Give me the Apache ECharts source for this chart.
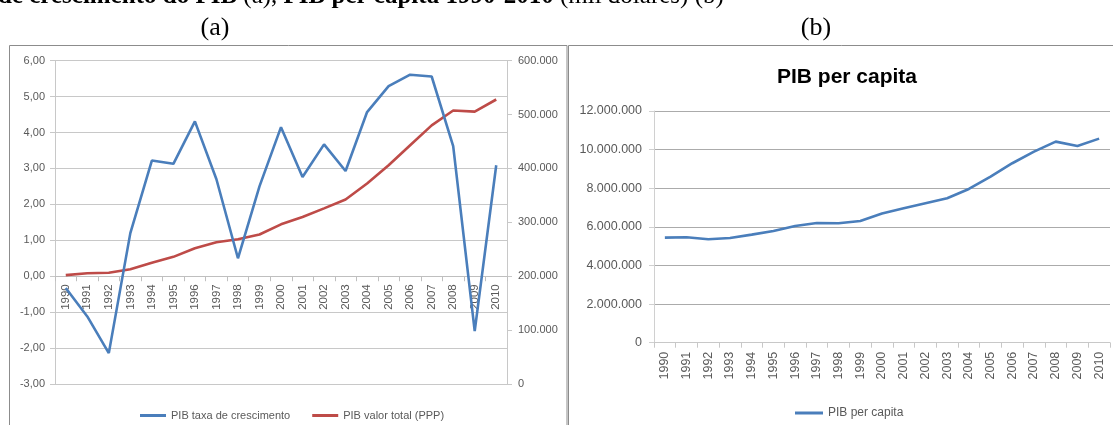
<!DOCTYPE html>
<html><head><meta charset="utf-8">
<script src="https://cdn.jsdelivr.net/npm/echarts@6/dist/echarts.min.js"></script>
<style>html,body{margin:0;padding:0;background:#fff}#c{width:1113px;height:425px}</style>
</head><body><div id="c"></div>
<script>
const years = ['1990','1991','1992','1993','1994','1995','1996','1997','1998','1999','2000','2001','2002','2003','2004','2005','2006','2007','2008','2009','2010'];
const growthRate = [-0.33, -1.12, -2.14, 1.2, 3.22, 3.13, 4.31, 2.7, 0.5, 2.5, 4.15, 2.76, 3.67, 2.93, 4.57, 5.29, 5.61, 5.56, 3.62, -1.53, 3.09];
const totalPPP = [202000, 205500, 206500, 213000, 225000, 236000, 252000, 263000, 268500, 277500, 296300, 310000, 326000, 342500, 372000, 406000, 443000, 480000, 507500, 505500, 528000];
const perCapita = [5440000, 5461000, 5357000, 5425000, 5596000, 5787000, 6046000, 6202000, 6185000, 6305000, 6690000, 6960000, 7222000, 7481000, 7963000, 8601000, 9295000, 9896000, 10414000, 10191000, 10570000];
const seriesNames = ['PIB taxa de crescimento', 'PIB valor total (PPP)', 'PIB per capita'];
const leftTicks = {min: -3, max: 6, interval: 1};
const rightTicks = {min: 0, max: 600000, interval: 100000};
const capitaTicks = {min: 0, max: 12000000, interval: 2000000};

function dots(v){ return String(Math.round(v)).replace(/\B(?=(\d{3})+(?!\d))/g,'.'); }
function comma2(v){ return v.toFixed(2).replace('.', ','); }

const F = 'Liberation Sans';
const lab = '#595959';
const BLUE = '#4a7ebb', RED = '#be4b48';

const gridA = {left:55, right:606, top:60.7, bottom:41};
const plotHA = 425 - gridA.top - gridA.bottom;
const zeroOffset = -plotHA * (0 - leftTicks.min) / (leftTicks.max - leftTicks.min);

const chart = echarts.init(document.getElementById('c'), null, {renderer:'canvas'});
chart.setOption({
  animation: false,
  textStyle: {fontFamily: F},
  graphic: [
    {type:'rect', shape:{x:9.5, y:45.5, width:557.5, height:420}, style:{fill:'none', stroke:'#8c8c8c', lineWidth:1}},
    {type:'rect', shape:{x:568.5, y:45.5, width:600, height:420}, style:{fill:'none', stroke:'#8c8c8c', lineWidth:1}},
    {type:'text', x:-2, y:9, style:{text:'{b|de crescimento do PIB }{n|(a), }{b|PIB per capita 1990-2010 }{n|(mil dólares) (b)}', verticalAlign:'bottom', rich:{
      b:{fontFamily:'Liberation Serif', fontWeight:'bold', fontSize:25, fill:'#000'},
      n:{fontFamily:'Liberation Serif', fontSize:25, fill:'#000'}}}},
    {type:'text', x:215, y:28, style:{text:'(a)', fontFamily:'Liberation Serif', fontSize:26, fill:'#000', align:'center', verticalAlign:'middle'}},
    {type:'text', x:816, y:28, style:{text:'(b)', fontFamily:'Liberation Serif', fontSize:26, fill:'#000', align:'center', verticalAlign:'middle'}},
    {type:'text', x:847, y:77, style:{text:'PIB per capita', fontFamily:F, fontWeight:'bold', fontSize:21, fill:'#000', align:'center', verticalAlign:'middle'}}
  ],
  legend: [
    {data:[seriesNames[0], seriesNames[1]], left:135, top:405, itemGap:22, itemWidth:26, itemHeight:3, icon:'rect',
     textStyle:{color:lab, fontSize:11, fontFamily:F}},
    {data:[seriesNames[2]], left:790, top:402, itemWidth:28, itemHeight:3, icon:'rect',
     textStyle:{color:lab, fontSize:12, fontFamily:F}}
  ],
  grid: [
    {left:gridA.left, right:gridA.right, top:gridA.top, bottom:gridA.bottom, containLabel:false},
    {left:654, right:3, top:111, bottom:82.3, containLabel:false}
  ],
  xAxis: [
    {type:'category', gridIndex:0, data:years, boundaryGap:true, offset:zeroOffset,
     axisLine:{onZero:false, lineStyle:{color:'#bfbfbf'}},
     axisTick:{show:true, interval:0, length:5, lineStyle:{color:'#bfbfbf'}},
     axisLabel:{rotate:90, interval:0, margin:8, color:lab, fontSize:11.5, fontFamily:F},
     splitLine:{show:false}},
    {type:'category', gridIndex:1, data:years, boundaryGap:true,
     axisLine:{lineStyle:{color:'#c8c8c8'}},
     axisTick:{show:true, interval:0, length:5, lineStyle:{color:'#c8c8c8'}},
     axisLabel:{rotate:90, interval:0, margin:9, color:lab, fontSize:12.5, fontFamily:F},
     splitLine:{show:false}}
  ],
  yAxis: [
    {type:'value', gridIndex:0, position:'left', min:leftTicks.min, max:leftTicks.max, interval:leftTicks.interval,
     axisLine:{show:true, lineStyle:{color:'#c8c8c8'}},
     axisTick:{show:true, length:5, lineStyle:{color:'#c8c8c8'}},
     axisLabel:{formatter:comma2, color:lab, fontSize:11, margin:10, fontFamily:F},
     splitLine:{show:true, lineStyle:{color:'#c8c8c8'}}},
    {type:'value', gridIndex:0, position:'right', min:rightTicks.min, max:rightTicks.max, interval:rightTicks.interval,
     axisLine:{show:true, lineStyle:{color:'#c8c8c8'}},
     axisTick:{show:true, length:5, lineStyle:{color:'#c8c8c8'}},
     axisLabel:{formatter:dots, color:lab, fontSize:11, margin:11, fontFamily:F},
     splitLine:{show:false}},
    {type:'value', gridIndex:1, position:'left', min:capitaTicks.min, max:capitaTicks.max, interval:capitaTicks.interval,
     axisLine:{show:true, lineStyle:{color:'#d0d0d0'}},
     axisTick:{show:true, length:5, lineStyle:{color:'#d0d0d0'}},
     axisLabel:{formatter:dots, color:lab, fontSize:12.5, margin:12, fontFamily:F},
     splitLine:{show:true, lineStyle:{color:'#ababab'}}}
  ],
  series: [
    {name:seriesNames[0], type:'line', xAxisIndex:0, yAxisIndex:0, data:growthRate, symbol:'none',
     lineStyle:{color:BLUE, width:2.6}, itemStyle:{color:BLUE}, z:3},
    {name:seriesNames[1], type:'line', xAxisIndex:0, yAxisIndex:1, data:totalPPP, symbol:'none',
     lineStyle:{color:RED, width:2.6}, itemStyle:{color:RED}, z:2},
    {name:seriesNames[2], type:'line', xAxisIndex:1, yAxisIndex:2, data:perCapita, symbol:'none',
     lineStyle:{color:BLUE, width:2.6}, itemStyle:{color:BLUE}}
  ]
});
</script></body></html>
